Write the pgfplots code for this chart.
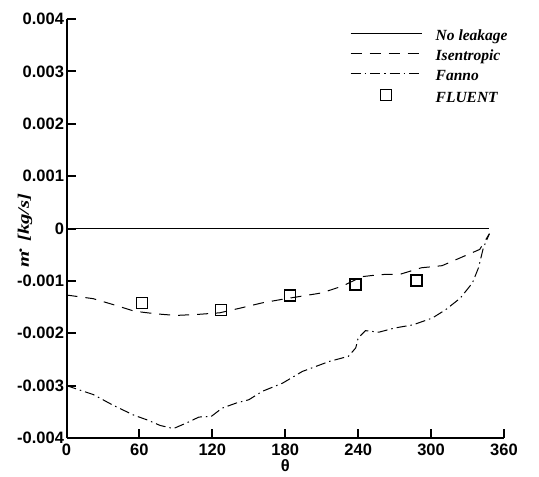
\documentclass[border=0pt]{standalone}
\usepackage{fontspec}
\setmainfont{Liberation Serif}
\setsansfont{Liberation Sans}
\usepackage{pgfplots}
\pgfplotsset{compat=1.18}
\usepackage{pgfplotstable}

\pgfplotsset{
  lineleg/.style={legend image code/.code={%
    \draw[##1] (0pt,4pt) -- (71pt,4pt);
    \path[draw=none, mark=none] (0pt,4pt) (85pt,4pt);}},
  markleg/.style={legend image code/.code={%
    \draw[##1, mark repeat=2, mark phase=2] plot coordinates {(0pt,4pt) (35.5pt,4pt) (71pt,4pt)};
    \path[draw=none, mark=none] (0pt,4pt) (85pt,4pt);}},
}

% Leakage mass flow rate around the rotor angle
\pgfplotstableread{
theta mdot
0   -0.00127
22  -0.00134
38  -0.00145
56  -0.00158
74  -0.00163
90  -0.00166
108 -0.00164
126 -0.00161
143 -0.00152
161 -0.00142
178 -0.00135
194 -0.00129
210 -0.00123
227 -0.00110
243 -0.00092
258 -0.00088
275 -0.00087
292 -0.00075
309 -0.00071
324 -0.00056
340 -0.00040
348 -0.00010
}\isentropic

\pgfplotstableread{
theta mdot
0   -0.00300
22  -0.00317
38  -0.00337
55  -0.00356
67  -0.00366
77  -0.00376
88  -0.00382
98  -0.00372
109 -0.00360
119 -0.00359
128 -0.00343
140 -0.00333
150 -0.00327
161 -0.00311
178 -0.00295
194 -0.00273
216 -0.00254
232 -0.00244
238 -0.00228
240 -0.00209
246 -0.00195
257 -0.00198
270 -0.00190
285 -0.00184
301 -0.00171
312 -0.00155
324 -0.00133
334 -0.00104
339 -0.00075
343 -0.00037
348 -0.00010
}\fanno

\pgfplotstableread{
theta mdot
62  -0.00142
127 -0.00156
184 -0.00128
238 -0.00107
288 -0.00099
}\fluent

\begin{document}
\begin{tikzpicture}
\begin{axis}[
  name=ax,
  scale only axis,
  width=437.5pt, height=419pt,
  xmin=0, xmax=360, ymin=-0.004, ymax=0.004,
  axis x line=bottom, axis y line=left,
  axis line style={-, line width=2pt},
  tick align=inside,
  major tick length=9pt,
  every tick/.style={line width=2pt, black},
  xtick={0,60,120,180,240,300,360},
  ytick={-0.004,-0.003,-0.002,-0.001,0,0.001,0.002,0.003,0.004},
  yticklabels={-0.004,-0.003,-0.002,-0.001,0,0.001,0.002,0.003,0.004},
  scaled y ticks=false,
  /pgf/number format/assume math mode=true,
  tick label style={font=\sffamily\bfseries\fontsize{16.5}{16.5}\selectfont},
  yticklabel style={xshift=1pt},
  xticklabel style={yshift=-2pt},
  xlabel={\sffamily\bfseries\fontsize{16.5}{16.5}\selectfont θ},
  xlabel style={at={(axis description cs:0.5,-0.067)}, anchor=center},
  ylabel={\bfseries\itshape\fontsize{16}{16}\selectfont\scalebox{1.3}[1]{m\kern-0.5pt\raisebox{7pt}{.}\kern4pt[kg/s]}},
  ylabel style={at={(axis description cs:-0.095,0.495)}, anchor=center, rotate=0},
  legend style={
    at={(axis description cs:0.648,0.975)}, anchor=north west,
    draw=none, fill=none, inner sep=0pt,
    font=\bfseries\itshape\fontsize{15.5}{15.5}\selectfont,
    nodes={inner sep=0pt, text height=11pt, text depth=4pt, outer sep=0pt},
    row sep=5pt,
  },
  legend cell align=left,
  clip=false,
]
\addplot[black, line width=1pt, lineleg]
  coordinates {(0,0) (348,0)};
\addlegendentry{No leakage}

\addplot[black, line width=1pt, dash pattern=on 11pt off 8pt, lineleg]
  table[x=theta, y=mdot] {\isentropic};
\addlegendentry{Isentropic}

\addplot[black, line width=1pt, dash pattern=on 10pt off 4pt on 1.5pt off 4pt, lineleg]
  table[x=theta, y=mdot] {\fanno};
\addlegendentry{Fanno}

\addplot[only marks, mark=square, mark size=5.5pt,
  mark options={line width=1.5pt, black, fill=white}, markleg]
  table[x=theta, y=mdot] {\fluent};
\addlegendentry{FLUENT}
\end{axis}
\pgfresetboundingbox
\path ([shift={(-66.5pt,-38pt)}]ax.south west) rectangle ([shift={(35pt,19pt)}]ax.north east);
\end{tikzpicture}
\end{document}
